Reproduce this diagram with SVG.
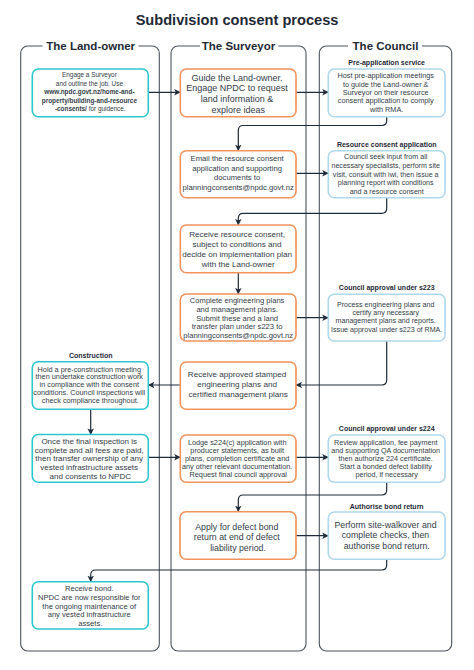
<svg xmlns="http://www.w3.org/2000/svg" width="474" height="670" viewBox="0 0 474 670">
<defs>
<style>
.col{fill:none;stroke:#4a535d;stroke-width:1.1}
.mask{fill:#ffffff}
.hd{font-family:"Liberation Sans",Arial,sans-serif;font-weight:bold;font-size:11.5px;fill:#1f2a36;text-anchor:middle}
.title{font-family:"Liberation Sans",Arial,sans-serif;font-weight:bold;font-size:14.6px;fill:#1f2a36;text-anchor:middle}
.lbl{font-family:"Liberation Sans",Arial,sans-serif;font-weight:bold;font-size:7px;fill:#1f2a36;text-anchor:middle}
.t{font-family:"Liberation Sans",Arial,sans-serif;fill:#333c46;text-anchor:middle}
.b{font-weight:bold}
.teal{fill:#ffffff;stroke:#2ec5d3;stroke-width:1.6}
.orange{fill:#ffffff;stroke:#f0935c;stroke-width:1.6}
.blue{fill:#ffffff;stroke:#aed8ec;stroke-width:1.6}
.conn path{fill:none;stroke:#1e2b3b;stroke-width:1.2;marker-end:url(#ah)}
</style>
<marker id="ah" viewBox="0 0 8 8" refX="7.5" refY="4" markerWidth="6.5" markerHeight="6.5" orient="auto" markerUnits="userSpaceOnUse">
<path d="M0,0 L8,4 L0,8 L2,4 z" fill="#1e2b3b"/>
</marker>
</defs>
<rect width="474" height="670" fill="#ffffff"/>
<text class="title" x="237" y="25">Subdivision consent process</text>

<g id="col-landowner">
<rect class="col" x="20.7" y="46" width="138.6" height="605" rx="7"/>
<rect class="mask" x="42.5" y="40" width="96" height="12"/>
<text class="hd" x="90.7" y="50">The Land-owner</text>
</g>
<g id="col-surveyor">
<rect class="col" x="171" y="46" width="135" height="605" rx="7"/>
<rect class="mask" x="200" y="40" width="78.5" height="12"/>
<text class="hd" x="238.5" y="50">The Surveyor</text>
</g>
<g id="col-council">
<rect class="col" x="319.3" y="46" width="132.4" height="605" rx="7"/>
<rect class="mask" x="348" y="40" width="74" height="12"/>
<text class="hd" x="385.5" y="50">The Council</text>
</g>

<g class="conn" id="connectors">
<path d="M148.3,92.3 H180.3"/>
<path d="M296,92.3 H328.3"/>
<path d="M386.7,116.7 V120.5 Q386.7,125.5 381.7,125.5 H243.3 Q238.3,125.5 238.3,130.5 V150.7"/>
<path d="M296,173.3 H328.3"/>
<path d="M386.7,197.7 V208.3 Q386.7,213.3 381.7,213.3 H243.3 Q238.3,213.3 238.3,218.3 V225"/>
<path d="M238.3,272.7 V294"/>
<path d="M296,317.7 H328.3"/>
<path d="M386.7,341 V380 Q386.7,385 381.7,385 H296"/>
<path d="M180.3,385 H148.3"/>
<path d="M90.7,409.3 V434.5"/>
<path d="M148.3,457.3 H180.3"/>
<path d="M296,457.3 H328.3"/>
<path d="M386.7,482.3 V490 Q386.7,495 381.7,495 H243.3 Q238.3,495 238.3,500 V511.7"/>
<path d="M296,535.7 H328.3"/>
<path d="M386.7,559.3 V565 Q386.7,570 381.7,570 H95.7 Q90.7,570 90.7,575 V581.7"/>
</g>

<g id="L1">
<rect class="teal" x="32.3" y="69" width="116" height="47.7" rx="6"/>
<text class="t" font-size="6.4">
<tspan x="90.3" y="77.3">Engage a Surveyor</tspan>
<tspan x="90.3" y="85.7">and outline the job. Use</tspan>
<tspan x="90.3" y="94.1" class="b">www.npdc.govt.nz/home-and-</tspan>
<tspan x="90.3" y="102.5" class="b">property/building-and-resource</tspan>
<tspan x="90.3" y="110.9"><tspan class="b">-consents/</tspan> for guidence.</tspan>
</text>
</g>

<g id="L2">
<text class="lbl" x="90.7" y="357.8">Construction</text>
<rect class="teal" x="32.3" y="361.7" width="116" height="47.6" rx="6"/>
<text class="t" font-size="7.3">
<tspan x="90.3" y="371.6">Hold a pre-construction meeting</tspan>
<tspan x="90.3" y="379.4">then undertake construction work</tspan>
<tspan x="90.3" y="387.2">in compliance with the consent</tspan>
<tspan x="90.3" y="395">conditions. Council inspections will</tspan>
<tspan x="90.3" y="402.8">check compliance throughout.</tspan>
</text>
</g>

<g id="L3">
<rect class="teal" x="32.3" y="434.5" width="116" height="47.8" rx="6"/>
<text class="t" font-size="8">
<tspan x="90.3" y="443.8">Once the final inspection is</tspan>
<tspan x="90.3" y="452.6">complete and all fees are paid,</tspan>
<tspan x="90.3" y="461.4">then transfer ownership of any</tspan>
<tspan x="90.3" y="470.2">vested infrastructure assets</tspan>
<tspan x="90.3" y="479">and consents to NPDC</tspan>
</text>
</g>

<g id="L4">
<rect class="teal" x="32.3" y="581.7" width="116" height="47.3" rx="6"/>
<text class="t" font-size="7.6">
<tspan x="90.3" y="591">Receive bond.</tspan>
<tspan x="90.3" y="599.8">NPDC are now responsible for</tspan>
<tspan x="90.3" y="608.6">the ongoing maintenance of</tspan>
<tspan x="90.3" y="617.4">any vested infrastructure</tspan>
<tspan x="90.3" y="626.2">assets.</tspan>
</text>
</g>

<g id="S1">
<rect class="orange" x="180.3" y="69" width="115.7" height="47.7" rx="6"/>
<text class="t" font-size="9">
<tspan x="238.2" y="80.5">Guide the Land-owner.</tspan>
<tspan x="238.2" y="91.2">Engage NPDC to request</tspan>
<tspan x="238.2" y="101.9">land information &amp;</tspan>
<tspan x="238.2" y="112.6">explore ideas</tspan>
</text>
</g>

<g id="S2">
<rect class="orange" x="180.3" y="150.7" width="115.7" height="47" rx="6"/>
<text class="t" font-size="7.7">
<tspan x="238.2" y="161.1">Email the resource consent</tspan>
<tspan x="238.2" y="170.7">application and supporting</tspan>
<tspan x="238.2" y="180.3">documents to</tspan>
<tspan x="238.2" y="189.9">planningconsents@npdc.govt.nz</tspan>
</text>
</g>

<g id="S3">
<rect class="orange" x="180.3" y="225" width="115.7" height="47.7" rx="6"/>
<text class="t" font-size="8.1">
<tspan x="238.2" y="236.8">Receive resource consent,</tspan>
<tspan x="238.2" y="246.8">subject to conditions and</tspan>
<tspan x="238.2" y="256.8">decide on implementation plan</tspan>
<tspan x="238.2" y="266.8">with the Land-owner</tspan>
</text>
</g>

<g id="S4">
<rect class="orange" x="180.3" y="294" width="115.7" height="47" rx="6"/>
<text class="t" font-size="7.6">
<tspan x="238.2" y="303">Complete engineering plans</tspan>
<tspan x="238.2" y="311.8">and management plans.</tspan>
<tspan x="238.2" y="320.6">Submit these and a land</tspan>
<tspan x="238.2" y="329.4">transfer plan under s223 to</tspan>
<tspan x="238.2" y="338.2">planningconsents@npdc.govt.nz</tspan>
</text>
</g>

<g id="S5">
<rect class="orange" x="180.3" y="362" width="115.7" height="47.3" rx="6"/>
<text class="t" font-size="8.1">
<tspan x="238.2" y="377.3">Receive approved stamped</tspan>
<tspan x="238.2" y="387.3">engineering plans and</tspan>
<tspan x="238.2" y="397.3">certified management plans</tspan>
</text>
</g>

<g id="S6">
<rect class="orange" x="180.3" y="435" width="115.7" height="47.3" rx="6"/>
<text class="t" font-size="7.3">
<tspan x="238.2" y="444.6">Lodge s224(c) application with</tspan>
<tspan x="238.2" y="452.8">producer statements, as built</tspan>
<tspan x="238.2" y="461">plans, completion certificate and</tspan>
<tspan x="238.2" y="469.2">any other relevant documentation.</tspan>
<tspan x="238.2" y="477.4">Request final council approval</tspan>
</text>
</g>

<g id="S7">
<rect class="orange" x="180" y="511.7" width="116" height="47.6" rx="6"/>
<text class="t" font-size="8.8">
<tspan x="238" y="529.5">Apply for defect bond</tspan>
<tspan x="238" y="540">return at end of defect</tspan>
<tspan x="238" y="550.5">liability period.</tspan>
</text>
</g>

<g id="C1">
<text class="lbl" x="386.7" y="64.8">Pre-application service</text>
<rect class="blue" x="328.3" y="69" width="116.7" height="47.7" rx="6"/>
<text class="t" font-size="7.3">
<tspan x="386.7" y="78.2">Host pre-application meetings</tspan>
<tspan x="386.7" y="86.6">to guide the Land-owner &amp;</tspan>
<tspan x="386.7" y="95">Surveyor on their resource</tspan>
<tspan x="386.7" y="103.4">consent application to comply</tspan>
<tspan x="386.7" y="111.8">with RMA.</tspan>
</text>
</g>

<g id="C2">
<text class="lbl" x="386.7" y="146.5">Resource consent application</text>
<rect class="blue" x="328.3" y="150.7" width="116.7" height="47" rx="6"/>
<text class="t" font-size="7.1">
<tspan x="386.7" y="159.2">Council seek input from all</tspan>
<tspan x="386.7" y="167.9">necessary specialists, perform site</tspan>
<tspan x="386.7" y="176.6">visit, consult with iwi, then issue a</tspan>
<tspan x="386.7" y="185.3">planning report with conditions</tspan>
<tspan x="386.7" y="194">and a resource consent</tspan>
</text>
</g>

<g id="C3">
<text class="lbl" x="386.7" y="289.8">Council approval under s223</text>
<rect class="blue" x="328.3" y="294.3" width="116.7" height="46.7" rx="6"/>
<text class="t" font-size="7.1">
<tspan x="386.7" y="306.5">Process engineering plans and</tspan>
<tspan x="386.7" y="314.9">certify any necessary</tspan>
<tspan x="386.7" y="323.3">management plans and reports.</tspan>
<tspan x="386.7" y="331.7">Issue approval under s223 of RMA.</tspan>
</text>
</g>

<g id="C4">
<text class="lbl" x="386.7" y="431.2">Council approval under s224</text>
<rect class="blue" x="328.3" y="435" width="116.7" height="47.3" rx="6"/>
<text class="t" font-size="7.2">
<tspan x="386.7" y="444.8">Review application, fee payment</tspan>
<tspan x="386.7" y="452.8">and supporting QA documentation</tspan>
<tspan x="386.7" y="460.8">then authorize 224 certificate.</tspan>
<tspan x="386.7" y="468.8">Start a bonded defect liability</tspan>
<tspan x="386.7" y="476.8">period, if necessary</tspan>
</text>
</g>

<g id="C5">
<text class="lbl" x="386.7" y="508.5">Authorise bond return</text>
<rect class="blue" x="328.3" y="512" width="116.7" height="47.3" rx="6"/>
<text class="t" font-size="8.8">
<tspan x="386.7" y="527.9">Perform site-walkover and</tspan>
<tspan x="386.7" y="538.4">complete checks, then</tspan>
<tspan x="386.7" y="548.9">authorise bond return.</tspan>
</text>
</g>
</svg>
